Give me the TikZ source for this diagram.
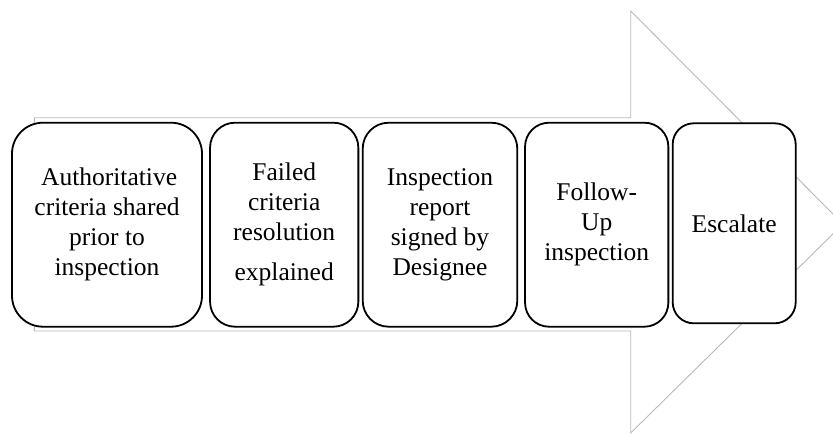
\documentclass[tikz,border=0pt]{standalone}
\usepackage{fontspec}
\setmainfont{Liberation Serif}
\begin{document}
\begin{tikzpicture}[x=1pt,y=-1pt,
  stepbox/.style={draw=black, fill=white, line width=1.8pt, rectangle, inner sep=0pt, align=center,
     font=\fontsize{25.5}{30}\selectfont},
  bigarrow/.style={draw=black!28, line width=0.9pt, line join=miter}]
\useasboundingbox (0,0) rectangle (833,434);
\begin{scope}
\clip (0,0) rectangle (833,434);
\draw[bigarrow] (34.3,117.7) -- (630.7,117.7) -- (630.7,11) -- (843,224) -- (630.7,433) -- (630.7,331) -- (34.3,331) -- cycle;
\end{scope}
\node[stepbox, minimum width=190pt, minimum height=204pt, rounded corners=31pt] (b1) at (107,224.7)
  {\,Authoritative\\criteria shared\\prior to\\inspection};
\node[stepbox, minimum width=148.3pt, minimum height=204pt, rounded corners=25pt] (b2) at (284.2,224.7)
  {Failed\\criteria\\resolution\\[10pt]explained};
\node[stepbox, minimum width=154.6pt, minimum height=204pt, rounded corners=26pt] (b3) at (440,224.7)
  {Inspection\\report\\signed by\\Designee};
\node[stepbox, minimum width=143.3pt, minimum height=204pt, rounded corners=24pt] (b4) at (596.7,224.7)
  {Follow-\\Up\\inspection};
\node[stepbox, minimum width=123pt, minimum height=200pt, rounded corners=21pt] (b5) at (734.2,223.3)
  {Escalate};
\end{tikzpicture}
\end{document}
